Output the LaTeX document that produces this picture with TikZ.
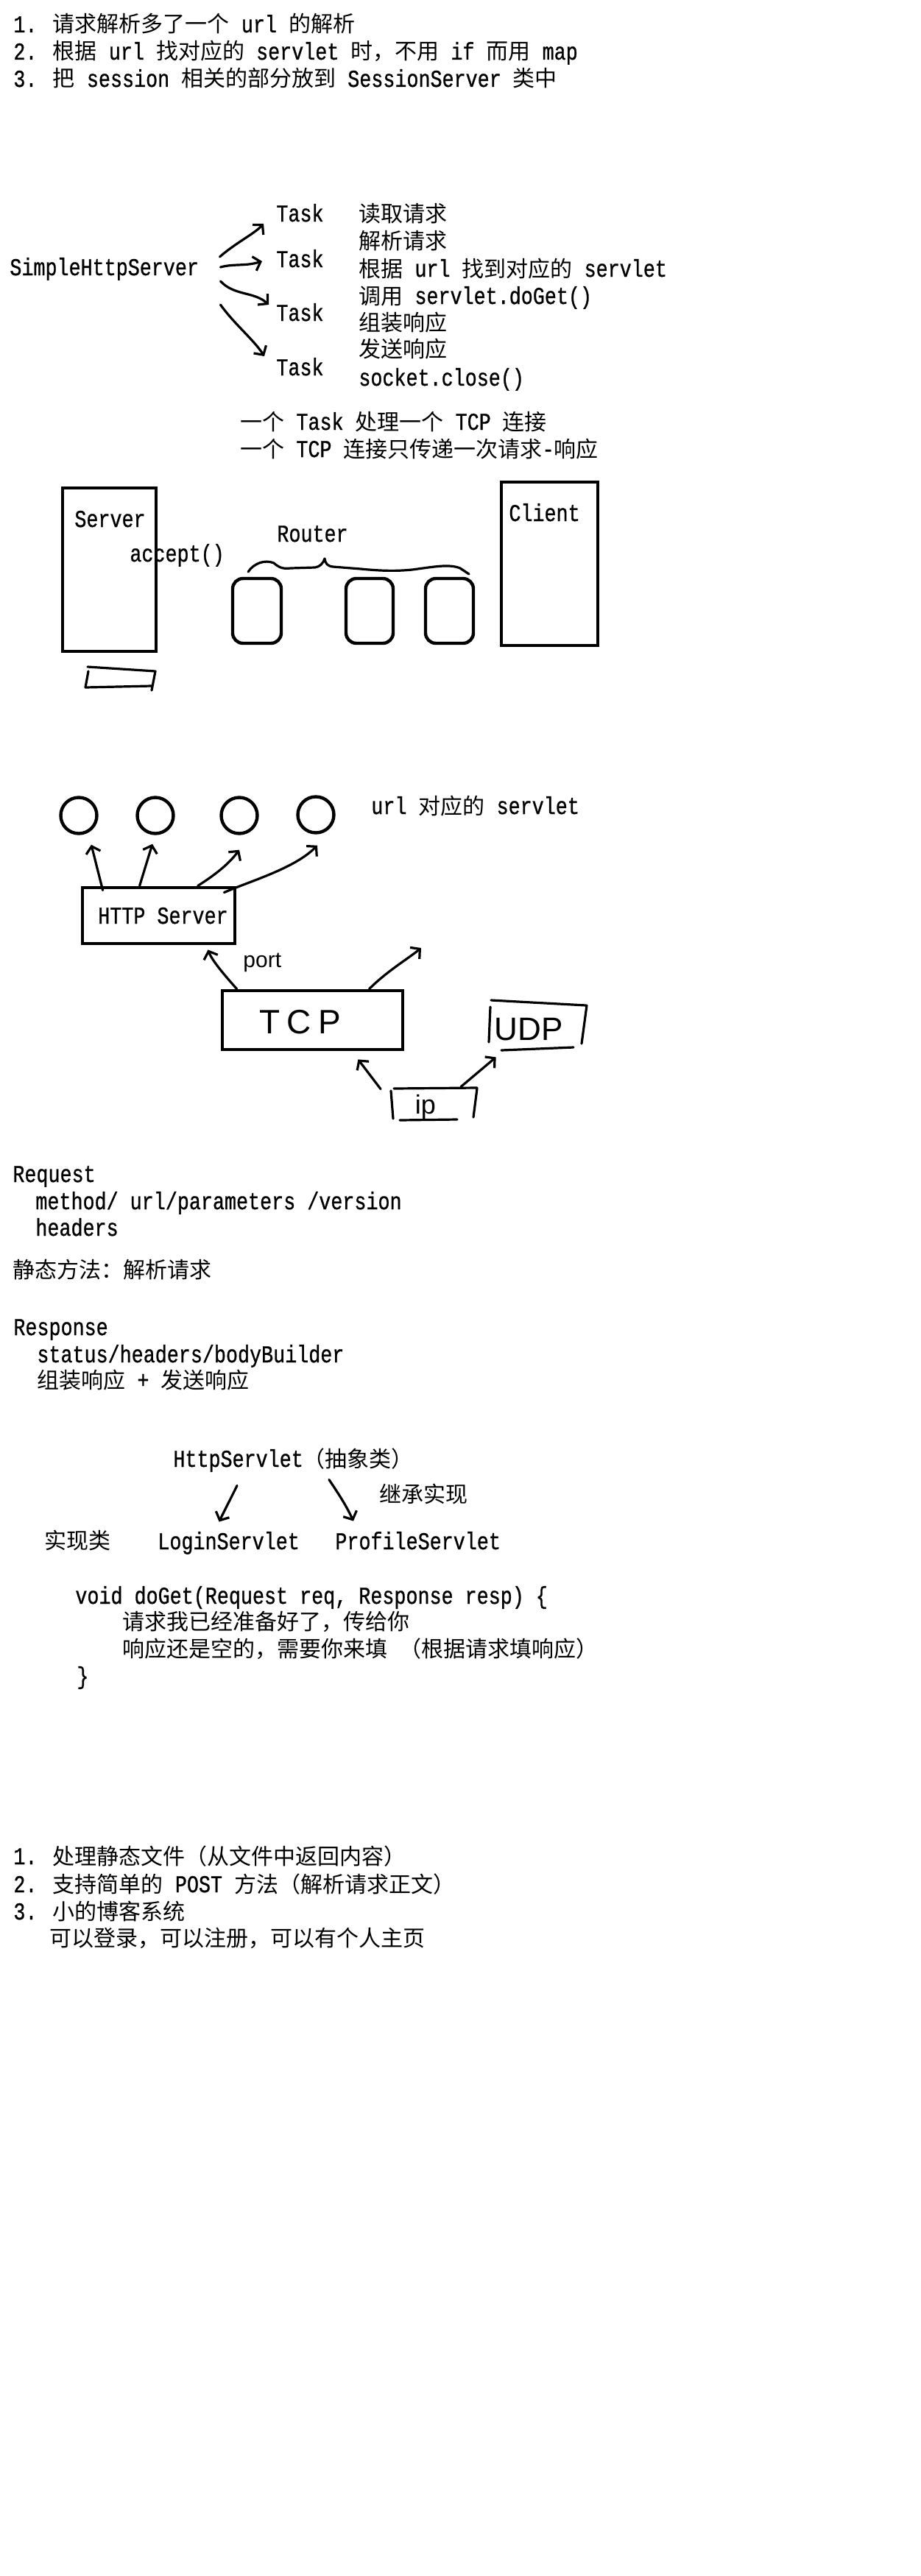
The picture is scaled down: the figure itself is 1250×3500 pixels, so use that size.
\documentclass[tikz,border=0pt]{standalone}
\usepackage{fontspec}
\usetikzlibrary{arrows.meta,calc}
\setmainfont[Scale=1.1,FakeStretch=0.81,FakeBold=0.8]{Liberation Mono}
\newfontfamily\zhfont{Noto Sans CJK SC}
\newfontfamily\handfont{Liberation Sans}
\newfontfamily\handspaced[LetterSpace=20]{Liberation Sans}
% Chinese characters switch to the CJK family on their own
\newXeTeXintercharclass\zhclass
\makeatletter
\def\setzhrange#1#2{%
  \count@=#1\relax
  \loop
    \XeTeXcharclass\count@=\zhclass
  \ifnum\count@<#2\relax
    \advance\count@\@ne
  \repeat}
\setzhrange{"3000}{"303F}
\setzhrange{"4E00}{"9FFF}
\setzhrange{"FF00}{"FFEF}
\makeatother
\XeTeXinterchartoks 0 \zhclass = {\zhfont}
\XeTeXinterchartoks 4095 \zhclass = {\zhfont}
\XeTeXinterchartoks \zhclass 0 = {\rmfamily}
\XeTeXinterchartoks \zhclass 4095 = {\rmfamily}
\XeTeXinterchartokenstate=1

\begin{document}
\begin{tikzpicture}[x=0.5pt,y=-0.5pt,
  txt/.style={anchor=west, inner sep=0pt, text height=13pt, text depth=2pt,
    font=\fontsize{15pt}{18pt}\selectfont},
  box/.style={draw, line width=2.4pt, inner sep=0pt, text height=13pt, text depth=2pt,
    font=\fontsize{15pt}{18pt}\selectfont},
  rbox/.style={draw, line width=2.2pt, rounded corners=7pt, inner sep=0pt},
  ring/.style={circle, draw, line width=2.2pt, minimum size=24.5pt, inner sep=0pt},
  hand/.style={line width=1.6pt, line cap=round, line join=round},
  arr/.style={hand, -{Straight Barb[length=4.5pt,width=10pt]}},
  scrawl/.style={inner sep=0pt, anchor=center}
]
\fill[white] (0,0) rectangle (1250,3500);
\useasboundingbox (0,0) rectangle (1250,3500);

% ---- to-do list ----
\node[txt] (n1) at (18,33) {1. 请求解析多了一个 url 的解析};
\node[txt] (n2) at (18,70) {2. 根据 url 找对应的 servlet 时，不用 if 而用 map};
\node[txt] (n3) at (18,107) {3. 把 session 相关的部分放到 SessionServer 类中};

% ---- server and tasks ----
\node[txt] (shs) at (13,363) {SimpleHttpServer};
\node[txt] (t1) at (375,290) {Task};
\node[txt] (t2) at (375,352) {Task};
\node[txt] (t3) at (375,425) {Task};
\node[txt] (t4) at (375,499) {Task};
\node[txt] (s1) at (487,290) {读取请求};
\node[txt] (s2) at (487,327) {解析请求};
\node[txt] (s3) at (487,365) {根据 url 找到对应的 servlet};
\node[txt] (s4) at (487,402) {调用 servlet.doGet()};
\node[txt] (s5) at (487,438) {组装响应};
\node[txt] (s6) at (487,474) {发送响应};
\node[txt] (s7) at (487,513) {socket.close()};
\node[txt] (m1) at (326,573) {一个 Task 处理一个 TCP 连接};
\node[txt] (m2) at (326,610) {一个 TCP 连接只传递一次请求-响应};

\draw[arr] ($(shs.east)+(28,-14)$) .. controls (320,330) and (345,318) .. ($(t1.west)+(-17,14)$);
\draw[arr] ($(shs.east)+(29,0)$) .. controls (318,358) and (333,362) .. ($(t2.west)+(-19,3)$);
\draw[arr] ($(shs.east)+(29,19)$) .. controls (318,402) and (345,396) .. ($(t3.west)+(-10,-11)$);
\draw[arr] ($(shs.east)+(29,51)$) .. controls (318,440) and (345,462) .. ($(t4.west)+(-16,-15)$);

% ---- server, routers, client ----
\node[box, minimum width=63.5pt, minimum height=111pt] (server) at (148.5,774) {};
\node[txt] (serverlbl) at (101,705) {Server};
\node[txt] (accept) at (176,752) {accept()};
\node[txt] (router) at (376,725) {Router};
\draw[hand] (337,777) .. controls (345,765) and (360,760) .. (372,765)
  .. controls (380,772) and (385,773) .. (395,772) -- (428,771)
  .. controls (435,770) and (439,765) .. (441,759)
  .. controls (442,765) and (444,769) .. (452,770) -- (490,773)
  .. controls (520,776) and (540,776) .. (560,774)
  .. controls (590,770) and (610,766) .. (625,772) -- (637,780);
\node[rbox, minimum width=33pt, minimum height=44pt] (q1) at (349,830) {};
\node[rbox, minimum width=32pt, minimum height=44pt] (q2) at (502,830) {};
\node[rbox, minimum width=32.5pt, minimum height=44pt] (q3) at (610.5,830) {};
\node[box, minimum width=65.5pt, minimum height=111pt] (client) at (746.5,766) {};
\node[txt] (clientlbl) at (691,697) {Client};
\draw[hand] (119,906) -- (211,912) -- (206,938);
\draw[hand] (120,912) -- (116,934) -- (206,932);

% ---- protocol layers ----
\node[ring] (c1) at (107,1108) {};
\node[ring] (c2) at (211,1108) {};
\node[ring] (c3) at (325,1108) {};
\node[ring] (c4) at (429,1107) {};
\node[txt] (urlnote) at (504,1095) {url 对应的 servlet};
\node[box, minimum width=103.5pt, minimum height=38pt] (hs) at (215.5,1244) {\hspace*{6pt}HTTP Server};

\draw[arr] ($(hs.north west)+(30,6)$) -- ($(c1.south)+(17,13)$);
\draw[arr] ($(hs.north west)+(80,0)$) -- ($(c2.south)+(-4,12)$);
\draw[arr] ($(hs.north west)+(159,0)$) .. controls (290,1190) and (310,1175) .. ($(c3.south)+(0,20)$);
\draw[arr] ($(hs.north east)+(-17,9)$) .. controls (340,1197) and (400,1180) .. ($(c4.south)+(2,15)$);

\node[box, minimum width=122.5pt, minimum height=40pt] (tcp) at (424.5,1386) {};
\node[scrawl, anchor=west, font=\handspaced\fontsize{23pt}{25pt}\selectfont] (tcplbl) at (352,1389) {TCP};
\node[scrawl, anchor=west, font=\handfont\fontsize{15pt}{17pt}\selectfont] (port) at (330,1308) {port};
\draw[arr] ($(tcp.north west)+(22,0)$) .. controls (305,1325) and (288,1305) .. ($(hs.south)+(67,6)$);
\coordinate (upward) at (572,1288);
\draw[arr] ($(tcp.north west)+(202,0)$) .. controls (525,1320) and (555,1302) .. (upward);

\node[scrawl, text height=16pt, text depth=0pt, font=\handfont\fontsize{22pt}{24pt}\selectfont] (udp) at (718,1397) {UDP};
\draw[hand] (667,1359) -- (796,1366);
\draw[hand] (666,1368) -- (664,1416);
\draw[hand] (797,1366) -- (790,1418);
\draw[hand] (681,1427) -- (779,1423);

\node[scrawl, text height=10pt, text depth=4pt, font=\handfont\fontsize{18pt}{20pt}\selectfont] (ip) at (578,1507) {ip};
\draw[hand] (535,1479) -- (648,1478);
\draw[hand] (531,1482) -- (534,1520);
\draw[hand] (648,1479) -- (643,1518);
\draw[hand] (543,1522) -- (621,1521);
\draw[arr] ($(ip.north)+(-61,-13)$) -- ($(tcp.south east)+(-63,11)$);
\draw[arr] ($(ip.north)+(48,-16)$) -- ($(udp.south west)+(2.5,23)$);

% ---- request / response ----
\node[txt] (req) at (17,1595) {Request};
\node[txt] (req1) at (48,1632) {method/ url/parameters /version};
\node[txt] (req2) at (48,1668) {headers};
\node[txt] (parse) at (17,1725) {静态方法：解析请求};
\node[txt] (resp) at (18,1803) {Response};
\node[txt] (resp1) at (50,1840) {status/headers/bodyBuilder};
\node[txt] (resp2) at (50,1875) {组装响应 + 发送响应};

% ---- servlet classes ----
\node[txt] (hsv) at (235,1982) {HttpServlet（抽象类）};
\node[txt] (inherit) at (515,2030) {继承实现};
\node[txt] (impl) at (60,2093) {实现类};
\node[txt] (login) at (214,2094) {LoginServlet};
\node[txt] (profile) at (455,2094) {ProfileServlet};
\draw[arr] ($(hsv.south west)+(87,21)$) .. controls (314,2035) and (305,2052) .. ($(login.north)+(-13,-11)$);
\draw[arr] ($(hsv.south west)+(212,13)$) .. controls (460,2030) and (470,2045) .. ($(profile.north west)+(25,-12)$);

\node[txt] (code1) at (102,2168) {void doGet(Request req, Response resp) \{};
\node[txt] (code2) at (166,2203) {请求我已经准备好了，传给你};
\node[txt] (code3) at (166,2240) {响应还是空的，需要你来填 （根据请求填响应）};
\node[txt] (code4) at (104,2277) {\}};

% ---- next steps ----
\node[txt] (p1) at (18,2522) {1. 处理静态文件（从文件中返回内容）};
\node[txt] (p2) at (18,2560) {2. 支持简单的 POST 方法（解析请求正文）};
\node[txt] (p3) at (18,2597) {3. 小的博客系统};
\node[txt] (p4) at (67,2633) {可以登录，可以注册，可以有个人主页};
\end{tikzpicture}
\end{document}
